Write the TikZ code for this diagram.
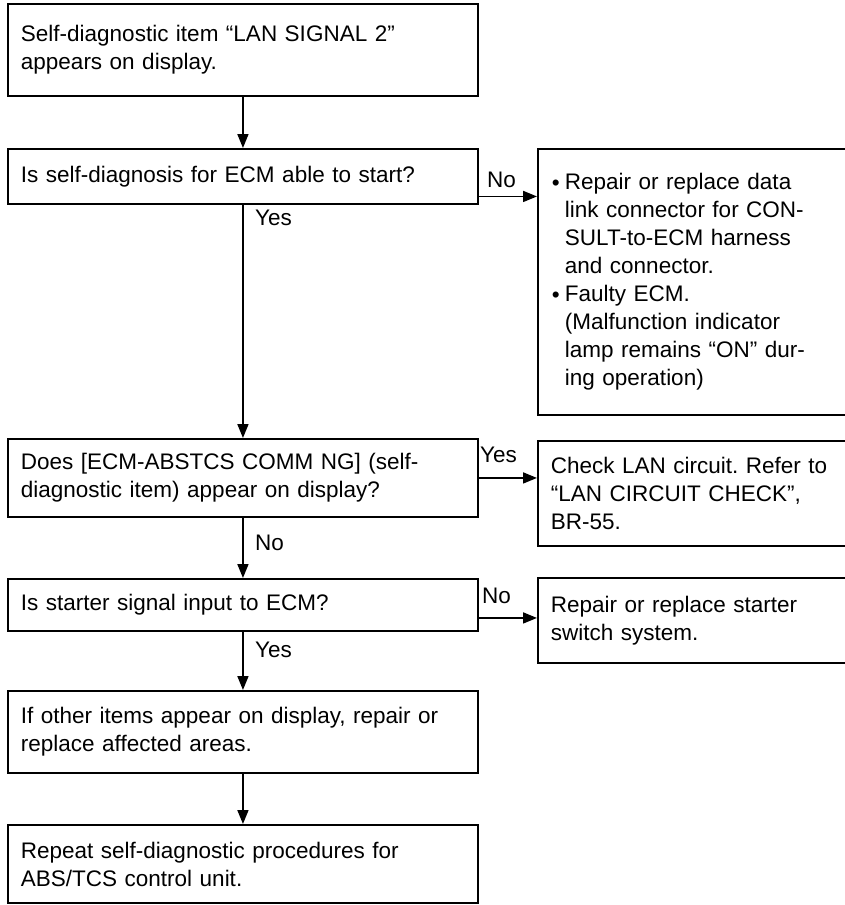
\documentclass[tikz,border=0pt]{standalone}
\usepackage{fontspec}
\setmainfont{Liberation Sans}
\usetikzlibrary{arrows.meta}
\begin{document}
\frenchspacing
\begin{tikzpicture}[x=1pt,y=-1pt,
  font=\fontsize{22.5pt}{28pt}\selectfont,
  box/.style={draw, line width=1.9pt, rectangle, inner xsep=13pt, inner ysep=0pt,
              align=left, anchor=north west},
  arr/.style={line width=1.7pt, -{Triangle[length=14pt,width=11pt]}},
  lbl/.style={inner sep=0pt, anchor=west}]
\useasboundingbox (0,0) rectangle (845,905);
\clip (0,0) rectangle (845,905);
\fill[white] (0,0) rectangle (845,905);
\newcommand{\bul}{\makebox[13pt][l]{\raisebox{-1pt}{\textbullet}}}
\newcommand{\ind}{\hspace*{13pt}}
% left column
\node[box, text width=444pt, minimum height=92pt] (b1) at (7,3)
  {Self-diagnostic item “LAN SIGNAL 2”\\appears on display.};
\node[box, text width=444pt, minimum height=55pt] (b2) at (7,148)
  {Is self-diagnosis for ECM able to start?};
\node[box, text width=444pt, minimum height=78pt] (b3) at (7,438)
  {Does [ECM-ABSTCS COMM NG] (self-\\diagnostic item) appear on display?};
\node[box, text width=444pt, minimum height=52pt] (b4) at (7,578)
  {Is starter signal input to ECM?};
\node[box, text width=444pt, minimum height=82pt] (b5) at (7,690)
  {If other items appear on display, repair or\\replace affected areas.};
\node[box, text width=444pt, minimum height=78pt] (b6) at (7,824)
  {Repeat self-diagnostic procedures for\\ABS/TCS control unit.};
% right column
\node[box, inner xsep=14pt, text width=305pt, minimum height=266pt] (r1) at (537,148)
  {\bul Repair or replace data\\\ind link connector for CON-\\\ind SULT-to-ECM harness\\\ind and connector.\\\bul Faulty ECM.\\\ind (Malfunction indicator\\\ind lamp remains “ON” dur-\\\ind ing operation)};
\node[box, text width=307pt, minimum height=105pt] (r2) at (537,440)
  {Check LAN circuit. Refer to\\“LAN CIRCUIT CHECK”,\\BR-55.};
\node[box, text width=307pt, minimum height=85pt] (r3) at (537,577)
  {Repair or replace starter\\switch system.};
% vertical connectors
\draw[arr] (b1.south) -- (b2.north);
\draw[arr] (b2.south) -- (b3.north);
\draw[arr] (b3.south) -- (b4.north);
\draw[arr] (b4.south) -- (b5.north);
\draw[arr] (b5.south) -- (b6.north);
% horizontal connectors
\draw[arr] ([yshift=-20pt]b2.east) -- ([yshift=-20pt]b2.east -| r1.west);
\draw[arr] (b3.east) -- (b3.east -| r2.west);
\draw[arr] ([yshift=-13pt]b4.east) -- ([yshift=-13pt]b4.east -| r3.west);
% labels
\node[lbl] (lno1) at (487,180) {No};
\node[lbl] (lyes1) at (255,218) {Yes};
\node[lbl] (lyes2) at (480,455) {Yes};
\node[lbl] (lno2) at (255,543) {No};
\node[lbl] (lno3) at (482,596) {No};
\node[lbl] (lyes3) at (255,650) {Yes};
\end{tikzpicture}
\end{document}
